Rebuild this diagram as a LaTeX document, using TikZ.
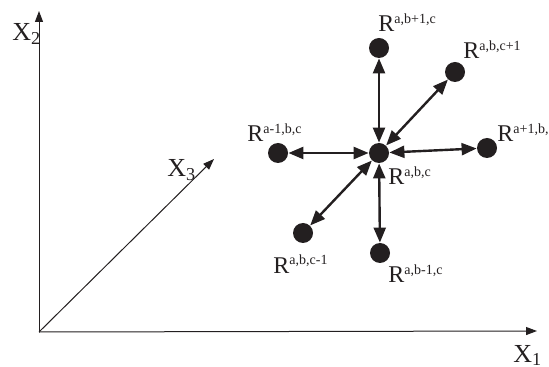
\documentclass[tikz,border=0pt]{standalone}
\usepackage{fontspec}
\setmainfont{Liberation Serif}
\usetikzlibrary{arrows.meta}
\definecolor{ink}{HTML}{231F20}
\newcommand\rsup[1]{\textsuperscript{\fontsize{7}{8}\selectfont #1}}

\begin{document}
\begin{tikzpicture}[x=0.5pt,y=-0.5pt,
  site/.style={circle,fill=ink,inner sep=0pt,minimum size=10pt},
  link/.style={{Triangle[length=7.5pt,width=6pt]}-{Triangle[length=7.5pt,width=6pt]},line width=1.2pt,ink},
  axisarrow/.style={-{Triangle[length=5.5pt,width=4pt]},line width=0.5pt,ink},
  lbl/.style={font=\fontsize{12}{14}\selectfont,text=ink,anchor=base west,inner sep=0pt}]
  \useasboundingbox (0,0) rectangle (549,367);

  % ---- axes ----
  \coordinate (O) at (39,332);
  \coordinate (X1) at (537,331);
  \coordinate (X2) at (39,11);
  \coordinate (X3) at (214,159);
  \draw[axisarrow] (O) -- (X1);
  \draw[axisarrow] (O) -- (X2);
  \draw[axisarrow] (O) -- (X3);
  \node[lbl,font=\fontsize{13}{15}\selectfont] (lx1) at (513,362) {X\textsubscript{1}};
  \node[lbl,font=\fontsize{13}{15}\selectfont] (lx2) at (12,41) {X\textsubscript{2}};
  \node[lbl,font=\fontsize{13}{15}\selectfont] (lx3) at (167,177) {X\textsubscript{3}};

  % ---- lattice sites ----
  \node[site] (c) at (379,153) {};
  \node[site] (up) at (379,48) {};
  \node[site] (dn) at (380,253) {};
  \node[site] (lt) at (278,153) {};
  \node[site] (rt) at (487,148) {};
  \node[site] (fw) at (455,72) {};
  \node[site] (bw) at (303,233) {};

  % neighbour links
  \foreach \n in {up,dn,lt,rt,fw,bw}
    \draw[link] (c) -- (\n);

  % ---- labels ----
  \node[lbl] (lc) at (388,185) {R\rsup{a,b,c}};
  \node[lbl] (lup) at (378,32) {R\rsup{a,b+1,c}};
  \node[lbl] (ldn) at (388,283) {R\rsup{a,b-1,c}};
  \node[lbl] (llt) at (247,142) {R\rsup{a-1,b,c}};
  \node[lbl] (lrt) at (497,142) {R\rsup{a+1,b,c}};
  \node[lbl] (lfw) at (463,59) {R\rsup{a,b,c+1}};
  \node[lbl] (lbw) at (273,273) {R\rsup{a,b,c-1}};
\end{tikzpicture}
\end{document}
